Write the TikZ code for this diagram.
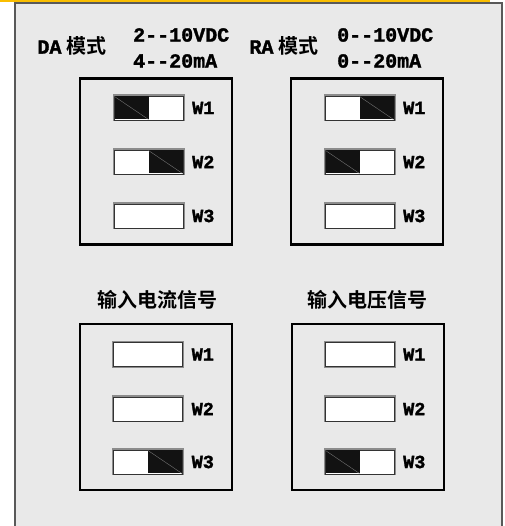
\documentclass[tikz,border=0pt]{standalone}
\usepackage{fontspec}
\usetikzlibrary{positioning}
\newfontfamily\cjk{Noto Sans CJK SC}[BoldFont=* Bold]
\newfontfamily\lat{Liberation Mono}[Ligatures=TeXOff, BoldFeatures={FakeBold=1.6}]
\definecolor{bandgold}{RGB}{250,190,0}
\definecolor{panelgray}{RGB}{233,233,233}
\begin{document}
\begin{tikzpicture}[x=1pt, y=1pt,
    modeframe/.style={draw=black, line width=2.4pt, minimum width=152, minimum height=166, inner sep=0pt, outer sep=0pt},
    switchbox/.style={draw=black!80, line width=0.8pt, fill=white, minimum width=69, minimum height=24, inner sep=0pt, outer sep=0pt, preaction={draw=black!45, line width=3pt}},
    knob/.style={fill=black!93},
    slash/.style={draw=black!55, line width=0.4pt},
    wlabel/.style={inner sep=0pt, font=\lat\bfseries\fontsize{18.5}{20}\selectfont},
    rangetext/.style={inner sep=0pt, anchor=west, font=\lat\bfseries\fontsize{20}{22}\selectfont},
    sigtitle/.style={inner sep=0pt, font=\cjk\bfseries\fontsize{20}{22}\selectfont}]
    \useasboundingbox (0,0) rectangle (504,526);

    % Background panel
    \fill[bandgold] (0,524) rectangle (490,526);
    \draw[draw=black!65, line width=2pt, fill=panelgray] (15,-5) rectangle (501.5,523);

    % Mode headings
    \node[inner sep=0pt] (damode) at (72,480) {{\lat\bfseries\fontsize{20}{22}\selectfont DA}\hspace{5pt}{\cjk\bfseries\fontsize{20}{22}\selectfont 模式}};
    \node[rangetext] (darange1) at (133,491) {2--10VDC};
    \node[rangetext] (darange2) at (133,465) {4--20mA};
    \node[inner sep=0pt] (ramode) at (284,480) {{\lat\bfseries\fontsize{20}{22}\selectfont RA}\hspace{5pt}{\cjk\bfseries\fontsize{20}{22}\selectfont 模式}};
    \node[rangetext] (rarange1) at (337,491) {0--10VDC};
    \node[rangetext] (rarange2) at (337,465) {0--20mA};

    % Signal headings
    \node[sigtitle] (curtitle) at (157,226) {输入电流信号};
    \node[sigtitle] (volttitle) at (367.5,226) {输入电压信号};

    % Frames
    \node[modeframe] (daframe) at (156,364.5) {};
    \node[modeframe] (raframe) at (367,364.5) {};
    \node[modeframe] (curframe) at (156,119) {};
    \node[modeframe] (voltframe) at (368,119) {};

    % DA switches
    \node[switchbox] (da1) at (148.5,418) {};
    \node[switchbox] (da2) at (148.5,364) {};
    \node[switchbox] (da3) at (148.5,310) {};
    \node[wlabel, right=9pt of da1] (daw1) {W1};
    \node[wlabel, right=9pt of da2] (daw2) {W2};
    \node[wlabel, right=9pt of da3] (daw3) {W3};

    % RA switches
    \node[switchbox] (ra1) at (359.5,418) {};
    \node[switchbox] (ra2) at (359.5,364) {};
    \node[switchbox] (ra3) at (359.5,310) {};
    \node[wlabel, right=9pt of ra1] (raw1) {W1};
    \node[wlabel, right=9pt of ra2] (raw2) {W2};
    \node[wlabel, right=9pt of ra3] (raw3) {W3};

    % Current input switches
    \node[switchbox] (cur1) at (148,171.5) {};
    \node[switchbox] (cur2) at (148,117) {};
    \node[switchbox] (cur3) at (148,64) {};
    \node[wlabel, right=9pt of cur1] (curw1) {W1};
    \node[wlabel, right=9pt of cur2] (curw2) {W2};
    \node[wlabel, right=9pt of cur3] (curw3) {W3};

    % Voltage input switches
    \node[switchbox] (volt1) at (359.5,171.5) {};
    \node[switchbox] (volt2) at (359.5,117) {};
    \node[switchbox] (volt3) at (359.5,64) {};
    \node[wlabel, right=9pt of volt1] (voltw1) {W1};
    \node[wlabel, right=9pt of volt2] (voltw2) {W2};
    \node[wlabel, right=9pt of volt3] (voltw3) {W3};

    % Switch levers (left half)
    \fill[knob] ([shift={(0.5,-0.5)}]da1.north west) rectangle ([shift={(0,0.5)}]da1.south);
    \draw[slash] ([shift={(0.5,-0.5)}]da1.north west) -- ([shift={(0,0.5)}]da1.south);
    \fill[knob] ([shift={(0.5,-0.5)}]ra2.north west) rectangle ([shift={(0,0.5)}]ra2.south);
    \draw[slash] ([shift={(0.5,-0.5)}]ra2.north west) -- ([shift={(0,0.5)}]ra2.south);
    \fill[knob] ([shift={(0.5,-0.5)}]volt3.north west) rectangle ([shift={(0,0.5)}]volt3.south);
    \draw[slash] ([shift={(0.5,-0.5)}]volt3.north west) -- ([shift={(0,0.5)}]volt3.south);

    % Switch levers (right half)
    \fill[knob] ([shift={(0,-0.5)}]da2.north) rectangle ([shift={(-0.5,0.5)}]da2.south east);
    \draw[slash] ([shift={(0,-0.5)}]da2.north) -- ([shift={(-0.5,0.5)}]da2.south east);
    \fill[knob] ([shift={(0,-0.5)}]ra1.north) rectangle ([shift={(-0.5,0.5)}]ra1.south east);
    \draw[slash] ([shift={(0,-0.5)}]ra1.north) -- ([shift={(-0.5,0.5)}]ra1.south east);
    \fill[knob] ([shift={(0,-0.5)}]cur3.north) rectangle ([shift={(-0.5,0.5)}]cur3.south east);
    \draw[slash] ([shift={(0,-0.5)}]cur3.north) -- ([shift={(-0.5,0.5)}]cur3.south east);
\end{tikzpicture}
\end{document}
